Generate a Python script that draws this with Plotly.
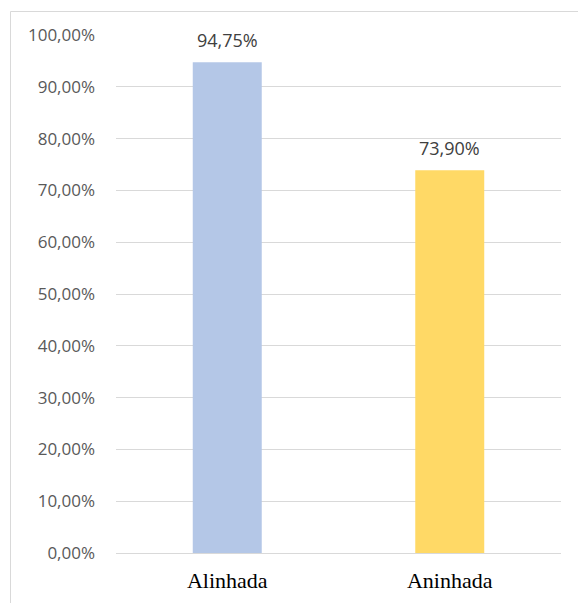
import plotly.graph_objects as go

categories = ["Alinhada", "Aninhada"]
values = [0.9475, 0.7390]
colors = ["#B4C7E7", "#FFD966"]
tick_vals = [0, 0.1, 0.2, 0.3, 0.4, 0.5, 0.6, 0.7, 0.8, 0.9, 1.0]

W, H = 578, 603
ML, MR, MT, MB = 116, 17, 35, 50
pw = W - ML - MR
ph = H - MT - MB

fig = go.Figure(go.Bar(
    x=categories, y=values, marker_color=colors, width=0.31,
    marker_line_width=0,
))

for c, v in zip(categories, values):
    fig.add_annotation(
        x=c, y=v, xref="x", yref="y", yanchor="bottom", yshift=8,
        text=f"{v*100:.2f}%".replace(".", ","), showarrow=False,
        font=dict(family="Open Sans", size=18, color="#404040"),
    )

fig.update_layout(
    width=W, height=H, margin=dict(l=ML, r=MR, t=MT, b=MB),
    paper_bgcolor="white", plot_bgcolor="white",
    separators=",.", showlegend=False,
    xaxis=dict(showgrid=False, showline=False, zeroline=False, automargin=False,
               tickfont=dict(family="Liberation Serif", size=22, color="#000000"),
               ticklabelstandoff=12),
    yaxis=dict(range=[0, 1.0], tickvals=tick_vals, tickformat=".2%",
               automargin=False,
               showgrid=True, gridcolor="#D9D9D9", gridwidth=1,
               zeroline=True, zerolinecolor="#D9D9D9", zerolinewidth=1,
               showline=False,
               tickfont=dict(family="Open Sans", size=17, color="#595959"),
               ticklabelstandoff=20),
    shapes=[dict(type="rect", xref="paper", yref="paper",
                 x0=(10.5 - ML) / pw, x1=2, y0=-1, y1=(H - MB - 11.5) / ph,
                 line=dict(color="#D9D9D9", width=1), fillcolor="rgba(0,0,0,0)",
                 layer="below")],
)

fig.write_html("out.html")
